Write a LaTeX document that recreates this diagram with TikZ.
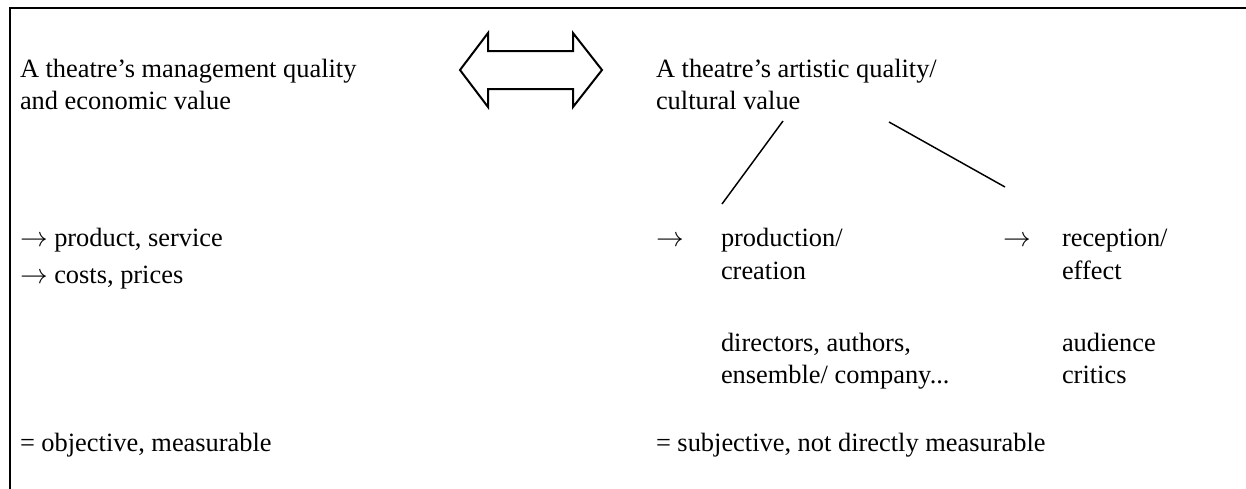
\documentclass[tikz,border=0pt]{standalone}
\usepackage{fontspec}
\setmainfont{Liberation Serif}
\begin{document}
\begin{tikzpicture}[x=0.75pt,y=-0.75pt,
  txt/.style={anchor=base west,inner sep=0pt,outer sep=0pt,font=\fontsize{19.8}{24}\selectfont,align=left},
  frame/.style={line width=1.5pt},
  conn/.style={line width=1.1pt},
  arr/.style={line width=1.5pt,line join=miter}]
\useasboundingbox (0,0) rectangle (1246,489);
\draw[frame] (10,489) -- (10,8) -- (1246,8);
% left column
\node[txt] (mgmt1) at (20,77) {A theatre’s management quality};
\node[txt] (mgmt2) at (20,109) {and economic value};
\node[txt] (prod) at (20,246) {$\rightarrow$ product, service};
\node[txt] (cost) at (20,283) {$\rightarrow$ costs, prices};
\node[txt] (obj) at (20,451) {= objective, measurable};
% right column
\node[txt] (art1) at (656,77) {A theatre’s artistic quality/};
\node[txt] (art2) at (656,109) {cultural value};
\node[txt] (ar1) at (656,246) {$\rightarrow$};
\node[txt] (pc1) at (721,246) {production/};
\node[txt] (pc2) at (721,279) {creation};
\node[txt] (ar2) at (1003,246) {$\rightarrow$};
\node[txt] (re1) at (1062,246) {reception/};
\node[txt] (re2) at (1062,279) {effect};
\node[txt] (dir1) at (721,351) {directors, authors,};
\node[txt] (dir2) at (721,383) {ensemble/ company...};
\node[txt] (aud1) at (1062,351) {audience};
\node[txt] (aud2) at (1062,383) {critics};
\node[txt] (subj) at (656,451) {= subjective, not directly measurable};
% connectors
\coordinate (a1) at (783,121);
\coordinate (a2) at (722,204);
\coordinate (b1) at (889,122);
\coordinate (b2) at (1005,187);
\draw[conn] (a1) -- (a2);
\draw[conn] (b1) -- (b2);
% double arrow
\draw[arr] (460,70) -- (488,33) -- (488,51) -- (573,51) -- (573,33) -- (602,70)
  -- (573,107) -- (573,89) -- (488,89) -- (488,107) -- cycle;
\end{tikzpicture}
\end{document}
